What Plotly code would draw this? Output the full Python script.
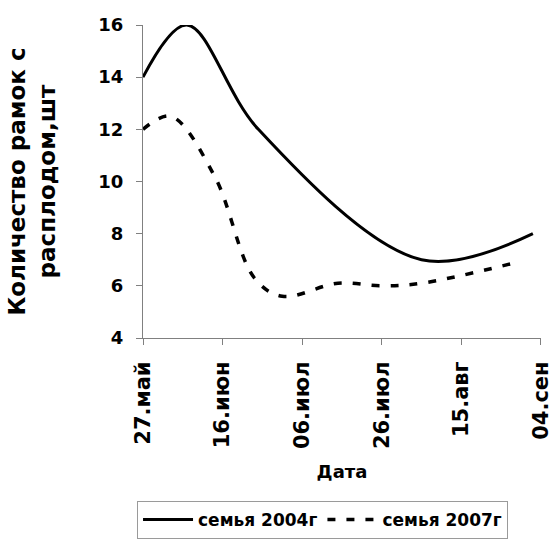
import plotly.graph_objects as go

# Series 1: семья 2004г
dates_2004 = ["2007-05-27", "2007-06-07", "2007-06-25", "2007-08-05", "2007-09-02"]
values_2004 = [14, 16, 12, 7, 8]

# Series 2: семья 2007г
dates_2007 = ["2007-05-27", "2007-06-03", "2007-06-14", "2007-06-24", "2007-07-01",
              "2007-07-15", "2007-07-26", "2007-08-05", "2007-08-29"]
values_2007 = [12, 12.5, 10.2, 6.3, 5.6, 6.1, 6.0, 6.1, 6.9]

# Axis ticks
x_tickvals = ["2007-05-27", "2007-06-16", "2007-07-06", "2007-07-26", "2007-08-15", "2007-09-04"]
x_ticktext = ["27.май", "16.июн", "06.июл", "26.июл", "15.авг", "04.сен"]
y_tickvals = [4, 6, 8, 10, 12, 14, 16]

FONT = "DejaVu Sans"

fig = go.Figure()
fig.add_trace(go.Scatter(
    x=dates_2004, y=values_2004, mode="lines", name="семья 2004г",
    line=dict(color="black", width=3, shape="spline", smoothing=1.0),
))
fig.add_trace(go.Scatter(
    x=dates_2007, y=values_2007, mode="lines", name="семья 2007г",
    line=dict(color="black", width=3.5, shape="spline", smoothing=1.0, dash="8px,11px"),
))

fig.update_layout(
    width=551, height=540,
    margin=dict(l=143, r=10, t=25, b=202, autoexpand=False),
    paper_bgcolor="white", plot_bgcolor="white",
    font=dict(family=FONT, color="black"),
    showlegend=True,
    legend=dict(
        orientation="h", x=-0.015, xanchor="left", y=-0.521, yanchor="top",
        bordercolor="#9a9a9a", borderwidth=1, bgcolor="white",
        font=dict(family=FONT, size=17, weight="bold"),
        itemwidth=50, tracegroupgap=0,
    ),
)

fig.update_xaxes(
    type="date", range=["2007-05-27", "2007-09-04 01:00"],
    tickvals=x_tickvals, ticktext=x_ticktext, tickangle=-90,
    tickfont=dict(family=FONT, size=21, weight="bold"),
    showline=True, linecolor="#808080", linewidth=1,
    ticks="outside", ticklen=6, tickcolor="#808080",
    ticklabelstandoff=8, ticklabeloverflow="allow",
    showgrid=False, zeroline=False, automargin=False,
    title=dict(text="Дата", font=dict(family=FONT, size=18, weight="bold"), standoff=17),
)
fig.update_yaxes(
    range=[4, 16], tickvals=y_tickvals,
    tickfont=dict(family=FONT, size=18, weight="bold"),
    showline=True, linecolor="#808080", linewidth=1,
    ticks="outside", ticklen=6, tickcolor="#808080",
    ticklabelstandoff=9,
    showgrid=False, zeroline=False, automargin=False,
    title=dict(text="Количество рамок с<br>расплодом,шт",
               font=dict(family=FONT, size=23, weight="bold"), standoff=36),
)

# remove the default page margin so the 551x540 figure fills the window exactly
fig.write_html("out.html", config={"displayModeBar": False},
               post_script="document.body.style.margin='0px';")
